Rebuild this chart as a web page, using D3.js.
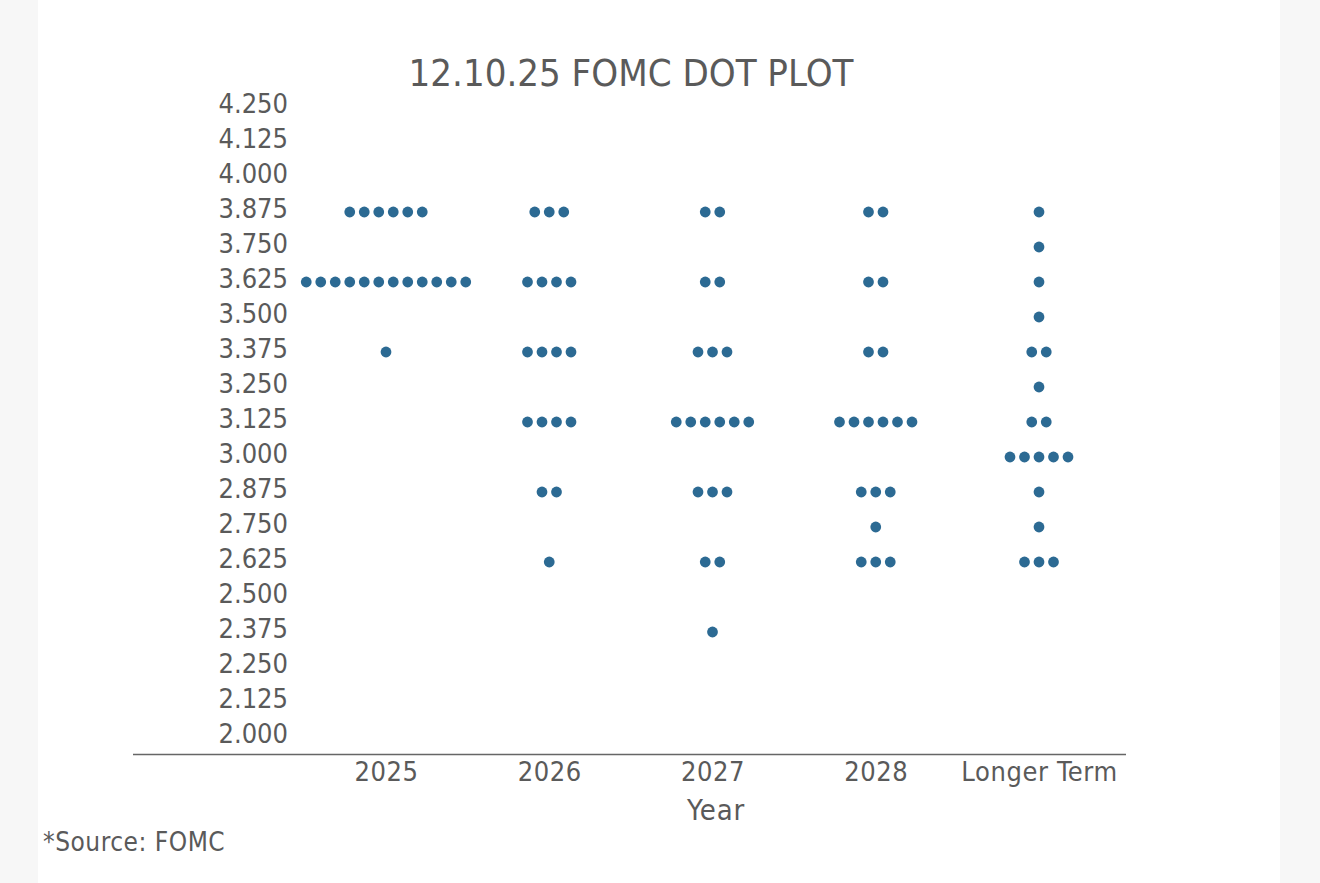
<!DOCTYPE html>
<html>
<head>
<meta charset="utf-8">
<script src="https://cdn.jsdelivr.net/npm/d3@7"></script>
<style>
  html, body { margin: 0; padding: 0; background: #f7f7f7; }
  svg { display: block; }
  text { font-family: "DejaVu Sans Condensed", "DejaVu Sans", sans-serif; font-stretch: condensed; fill: #5a5a5a; }
</style>
</head>
<body>
<svg id="chart" width="1320" height="883"></svg>
<script>
// ---- Data ----
const categories = ["2025", "2026", "2027", "2028", "Longer Term"];
const yTicks = [2.000, 2.125, 2.250, 2.375, 2.500, 2.625, 2.750, 2.875, 3.000, 3.125, 3.250, 3.375, 3.500, 3.625, 3.750, 3.875, 4.000, 4.125, 4.250];
// [rate, number of participants]
const dots2025 = [[3.875, 6], [3.625, 12], [3.375, 1]];
const dots2026 = [[3.875, 3], [3.625, 4], [3.375, 4], [3.125, 4], [2.875, 2], [2.625, 1]];
const dots2027 = [[3.875, 2], [3.625, 2], [3.375, 3], [3.125, 6], [2.875, 3], [2.625, 2], [2.375, 1]];
const dots2028 = [[3.875, 2], [3.625, 2], [3.375, 2], [3.125, 6], [2.875, 3], [2.750, 1], [2.625, 3]];
const dotsLonger = [[3.875, 1], [3.750, 1], [3.625, 1], [3.500, 1], [3.375, 2], [3.250, 1], [3.125, 2], [3.000, 5], [2.875, 1], [2.750, 1], [2.625, 3]];
const seriesByCategory = [dots2025, dots2026, dots2027, dots2028, dotsLonger];
const titleText = "12.10.25 FOMC DOT PLOT";
const xTitle = "Year";
const sourceText = "*Source: FOMC";

// ---- Layout ----
const svg = d3.select("#chart");
const W = 1320, H = 883;
const dotColor = "#2c6a93";
const dotR = 5.4, dotStep = 14.5;

svg.append("rect").attr("x", 38).attr("y", 0).attr("width", 1242).attr("height", H).attr("fill", "#ffffff");

const y = d3.scaleLinear().domain([2.0, 4.25]).range([734, 104]);
const x = d3.scalePoint().domain(categories).range([386, 1039]);

// Title
svg.append("text")
  .attr("x", 631).attr("y", 86)
  .attr("text-anchor", "middle")
  .style("font-size", "38px")
  .attr("fill", "#555")
  .text(titleText);

// Y axis (labels only)
const yAxis = d3.axisLeft(y).tickValues(yTicks).tickFormat(d3.format(".3f")).tickSize(0).tickPadding(0);
const gy = svg.append("g").attr("transform", "translate(288,0)").call(yAxis);
gy.select(".domain").remove();
gy.selectAll("text").style("font-size", "27px").attr("fill", "#5a5a5a").attr("font-family", null);

// X axis
const xAxis = d3.axisBottom(x).tickSize(0).tickPadding(0);
const gx = svg.append("g").attr("transform", "translate(0,754)").call(xAxis);
gx.select(".domain").remove();
gx.selectAll("text").attr("dy", "0").attr("y", 27).style("font-size", "27px").style("letter-spacing", "0.6px").attr("fill", "#5a5a5a").attr("font-family", null);
svg.append("line")
  .attr("x1", 133).attr("x2", 1126).attr("y1", 754.5).attr("y2", 754.5)
  .attr("stroke", "#666").attr("stroke-width", 1.3);

// X axis title
svg.append("text")
  .attr("x", 716).attr("y", 820)
  .attr("text-anchor", "middle")
  .style("font-size", "29px")
  .style("letter-spacing", "0.8px")
  .text(xTitle);

// Source
svg.append("text")
  .attr("x", 43).attr("y", 851)
  .style("font-size", "26px")
  .style("letter-spacing", "0.5px")
  .text(sourceText);

// Dots
const points = [];
categories.forEach((c, ci) => {
  seriesByCategory[ci].forEach(([rate, n]) => {
    for (let i = 0; i < n; i++) {
      points.push({ cat: c, rate: rate, offset: (i - (n - 1) / 2) * dotStep });
    }
  });
});
svg.append("g").attr("transform", "translate(0,3)")
  .selectAll("circle").data(points).join("circle")
  .attr("cx", d => x(d.cat) + d.offset)
  .attr("cy", d => y(d.rate))
  .attr("r", dotR)
  .attr("fill", dotColor);
</script>
</body>
</html>
